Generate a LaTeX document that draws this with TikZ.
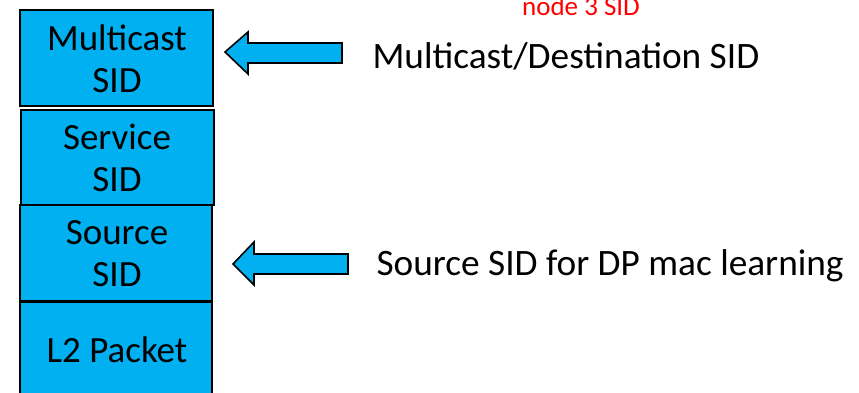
\documentclass[tikz,border=0pt]{standalone}
\usepackage{fontspec}
\setmainfont{Carlito}
\definecolor{fieldblue}{HTML}{00B0F0}
\begin{document}
\begin{tikzpicture}[x=1pt,y=-1pt,
  field/.style={draw=black,line width=1.6pt,fill=fieldblue},
  fieldtext/.style={font=\fontsize{37}{42}\selectfont,align=center},
  pointer/.style={draw=black,line width=1.6pt,fill=fieldblue,line join=miter},
  caption/.style={font=\fontsize{37.3}{42}\selectfont,anchor=west}]
\useasboundingbox (0,0) rectangle (859,393);
\clip (0,0) rectangle (859,393);
% stacked header fields
\draw[field] (20,10) rectangle (213,106);
\draw[field] (21,110) rectangle (214,205);
\draw[field] (20,205) rectangle (212,301);
\draw[field] (20,302) rectangle (212,410);
\node[fieldtext] (mc) at (117,59) {Multicast\\SID};
\node[fieldtext] (sv) at (117,158) {Service\\SID};
\node[fieldtext] (src) at (117,254) {Source\\SID};
\node[fieldtext] (l2) at (117,350) {L2 Packet};
% block arrows
\draw[pointer] (225,52) -- (248,32) -- (248,43) -- (342,43) -- (342,63) -- (248,63) -- (248,74) -- cycle;
\draw[pointer] (233,264) -- (254,242) -- (254,254) -- (348,254) -- (348,274) -- (254,274) -- (254,285) -- cycle;
% labels
\node[caption] (lab1) at (369,56) {Multicast/Destination SID};
\node[caption] (lab2) at (373,266) {Source SID for DP mac learning};
\node[font=\fontsize{27}{30}\selectfont,text=red,anchor=base] (n3) at (581,16) {node 3 SID};
\end{tikzpicture}
\end{document}
